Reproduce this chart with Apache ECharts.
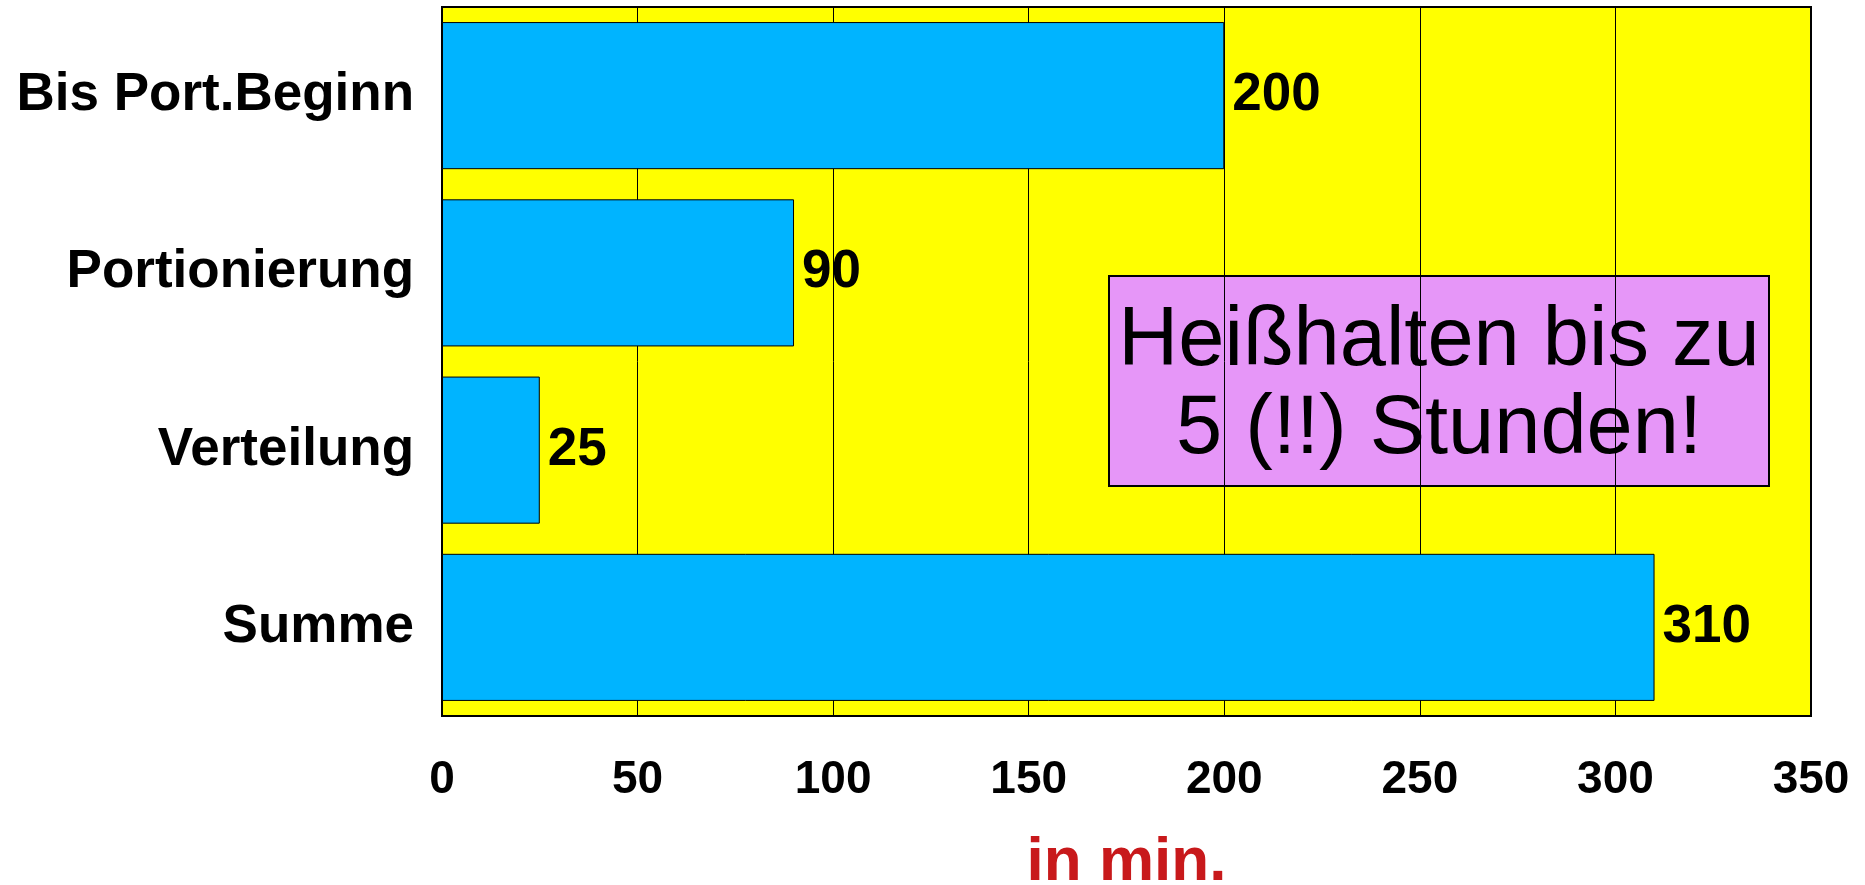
<!DOCTYPE html>
<html>
<head>
<meta charset="utf-8">
<script src="https://cdn.jsdelivr.net/npm/echarts@6/dist/echarts.min.js"></script>
<style>
html,body{margin:0;padding:0;background:#fff;}
#c{width:1865px;height:885px;}
</style>
</head>
<body>
<div id="c"></div>
<script>
const categories = ['Bis Port.Beginn', 'Portionierung', 'Verteilung', 'Summe'];
const values = [200, 90, 25, 310];
const axisMax = 350;
const axisInterval = 50;
const axisTitle = 'in min.';
const noteLines = ['Heißhalten bis zu', '5 (!!) Stunden!'];

const chart = echarts.init(document.getElementById('c'), null, {renderer: 'canvas'});
const font = '"Liberation Sans", Arial, sans-serif';

chart.setOption({
  animation: false,
  backgroundColor: '#ffffff',
  grid: {
    left: 442, right: 54, top: 7, bottom: 169,
    containLabel: false, outerBoundsMode: 'none',
    show: true, backgroundColor: '#ffff00', borderColor: '#000', borderWidth: 2
  },
  xAxis: {
    type: 'value', min: 0, max: axisMax, interval: axisInterval,
    axisLine: {show: true, lineStyle: {color: '#000', width: 2}},
    axisTick: {show: false},
    splitLine: {show: true, lineStyle: {color: '#000', width: 1}},
    axisLabel: {color: '#000', fontFamily: font, fontWeight: 'bold', fontSize: 46, margin: 41},
    name: axisTitle, nameLocation: 'middle', nameGap: 116,
    nameTextStyle: {color: '#c8191b', fontFamily: font, fontWeight: 'bold', fontSize: 62}
  },
  yAxis: {
    type: 'category', data: categories, inverse: true,
    axisLine: {show: true, lineStyle: {color: '#000', width: 2}},
    axisTick: {show: false},
    splitLine: {show: false},
    axisLabel: {color: '#000', fontFamily: font, fontWeight: 'bold', fontSize: 53, margin: 28, padding: [6, 0, 0, 0]}
  },
  series: [{
    type: 'bar', data: values, barCategoryGap: '17%',
    itemStyle: {color: '#00b4ff', borderColor: '#000', borderWidth: 1},
    label: {show: true, position: 'right', distance: 8, color: '#000',
      fontFamily: font, fontWeight: 'bold', fontSize: 53, padding: [6, 0, 0, 0]}
  }],
  graphic: [{
    type: 'group', left: 1108, top: 275,
    children: [
      {type: 'rect', shape: {x: 0, y: 0, width: 660, height: 210},
        style: {fill: '#e696f8', stroke: '#000', lineWidth: 2}},
      {type: 'text', x: 330, y: 108, style: {text: noteLines[0], fill: '#000', font: '83px "Liberation Sans", Arial, sans-serif', textAlign: 'center', textVerticalAlign: 'bottom'}},
      {type: 'text', x: 330, y: 196, style: {text: noteLines[1], fill: '#000', font: '83px "Liberation Sans", Arial, sans-serif', textAlign: 'center', textVerticalAlign: 'bottom'}}
    ]
  }]
});
</script>
</body>
</html>
